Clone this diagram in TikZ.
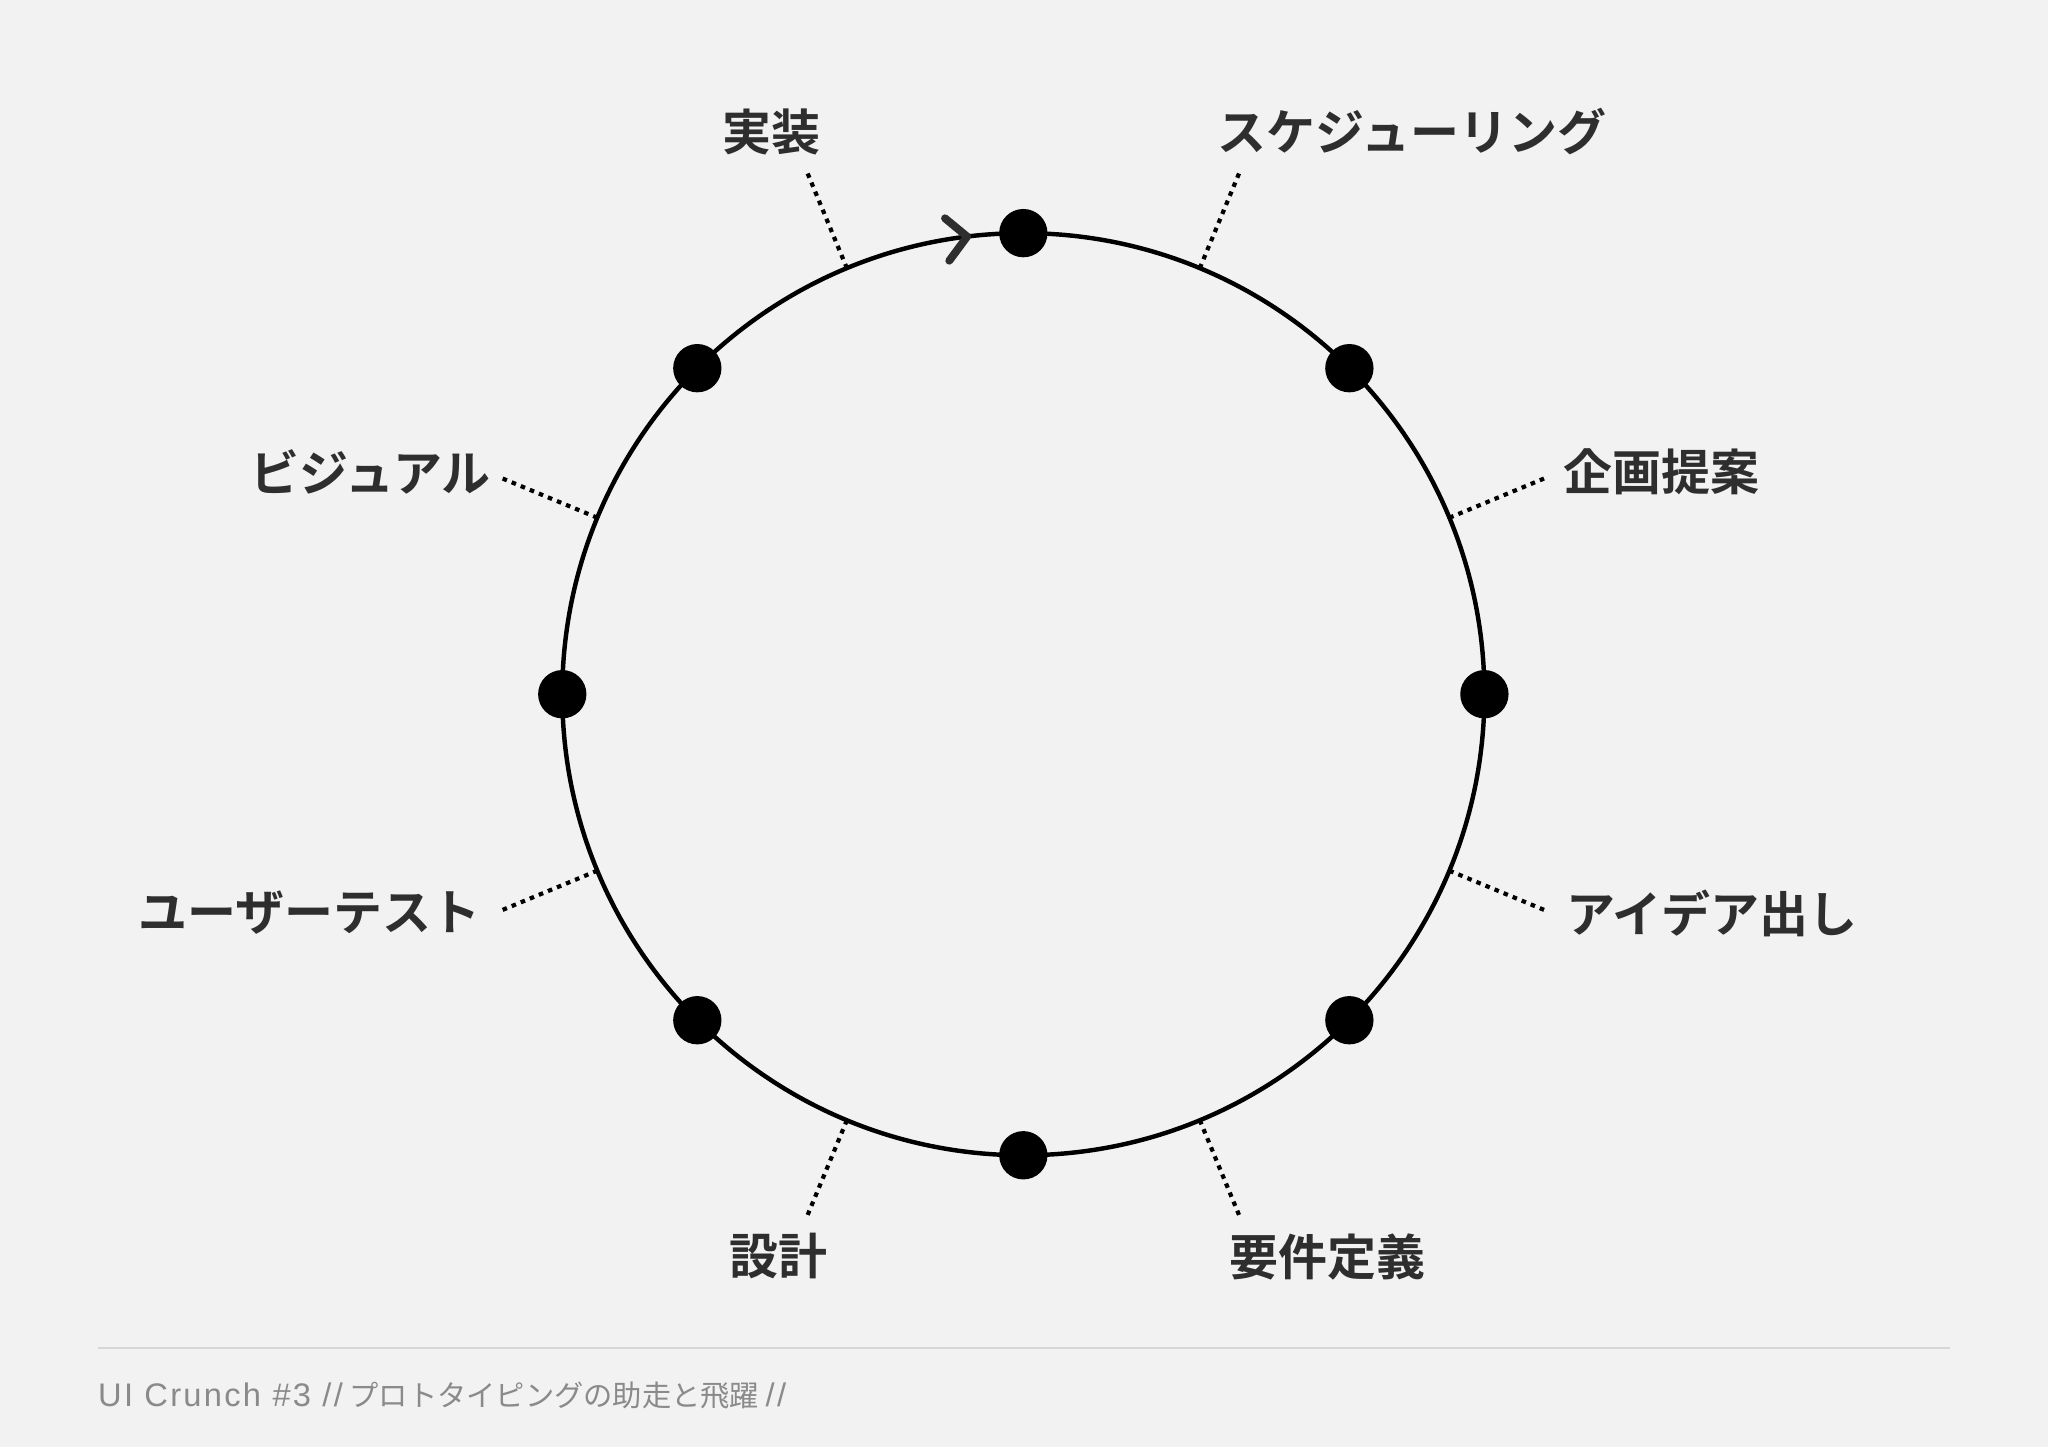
\documentclass[tikz,border=0pt]{standalone}
\usepackage{fontspec}
\newfontfamily\jpfont{Noto Sans CJK JP}[BoldFont={Noto Sans CJK JP Bold}]
\newfontfamily\latinfont{Liberation Sans}[LetterSpace=7]
\definecolor{bgcol}{HTML}{F2F2F2}
\definecolor{labelcol}{HTML}{2E2E2E}
\definecolor{footcol}{HTML}{8A8A8A}
\definecolor{rulecol}{HTML}{D6D6D6}
\tikzset{
  ring/.style={line width=3.4pt, black},
  dot/.style={circle, fill=black, inner sep=0pt, minimum size=37pt},
  leader/.style={line width=3.2pt, black, dash pattern=on 3.5pt off 4pt},
  label/.style={inner sep=0pt, text=labelcol, font=\jpfont\bfseries\fontsize{37.5}{42}\selectfont},
  chevron/.style={line width=6pt, labelcol, line cap=round, line join=round},
}
\begin{document}
\begin{tikzpicture}[x=1pt,y=1pt]
\fill[bgcol] (-783.5,-576.5) rectangle (784.5,531.5);
\useasboundingbox (-783.5,-576.5) rectangle (784.5,531.5);

\draw[ring] (0,0) circle (353);

\node[dot] (d1) at (90:353) {};
\node[dot] (d2) at (45:353) {};
\node[dot] (d3) at (0:353) {};
\node[dot] (d4) at (-45:353) {};
\node[dot] (d5) at (-90:353) {};
\node[dot] (d6) at (-135:353) {};
\node[dot] (d7) at (180:353) {};
\node[dot] (d8) at (135:353) {};

% direction arrow
\coordinate (tip) at (97:353);
\draw[chevron] ([shift={(140.5:22)}]tip) -- (tip) -- ([shift={(233.5:23)}]tip);

% leaders
\coordinate (a1) at (112.5:353);
\coordinate (b1) at (112.5:432);
\draw[leader] (a1) -- (b1);
\coordinate (a2) at (67.5:353);
\coordinate (b2) at (67.5:432);
\draw[leader] (a2) -- (b2);
\coordinate (a3) at (22.5:353);
\coordinate (b3) at (22.5:432);
\draw[leader] (a3) -- (b3);
\coordinate (a4) at (-22.5:353);
\coordinate (b4) at (-22.5:432);
\draw[leader] (a4) -- (b4);
\coordinate (a5) at (-67.5:353);
\coordinate (b5) at (-67.5:432);
\draw[leader] (a5) -- (b5);
\coordinate (a6) at (-112.5:353);
\coordinate (b6) at (-112.5:432);
\draw[leader] (a6) -- (b6);
\coordinate (a7) at (-157.5:353);
\coordinate (b7) at (-157.5:432);
\draw[leader] (a7) -- (b7);
\coordinate (a8) at (157.5:353);
\coordinate (b8) at (157.5:432);
\draw[leader] (a8) -- (b8);

% labels
\node[label] (jisso) at (-192.5,430.5) {実装};
\node[label] (sched) at (297.5,430.5) {スケジューリング};
\node[label, anchor=west] (kikaku) at (413.5,170.5) {企画提案};
\node[label, anchor=west] (idea) at (415.5,-167.5) {アイデア出し};
\node[label] (yoken) at (232.5,-430.5) {要件定義};
\node[label] (sekkei) at (-187.5,-430.5) {設計};
\node[label, anchor=east] (usertest) at (-415.5,-167.5) {ユーザーテスト};
\node[label, anchor=east] (visual) at (-407.5,170.5) {ビジュアル};

% footer
\coordinate (r1) at (-708.5,-500.5);
\coordinate (r2) at (709.5,-500.5);
\draw[rulecol, line width=2pt] (r1) -- (r2);
\node[anchor=west, inner sep=0pt, text=footcol, font=\jpfont\fontsize{22.4}{26}\selectfont] (footer) at (-708.5,-537)
  {{\latinfont\fontsize{25}{26}\selectfont UI Crunch \#3 //} プロトタイピングの助走と飛躍 {\latinfont\fontsize{25}{26}\selectfont //}};
\end{tikzpicture}
\end{document}
